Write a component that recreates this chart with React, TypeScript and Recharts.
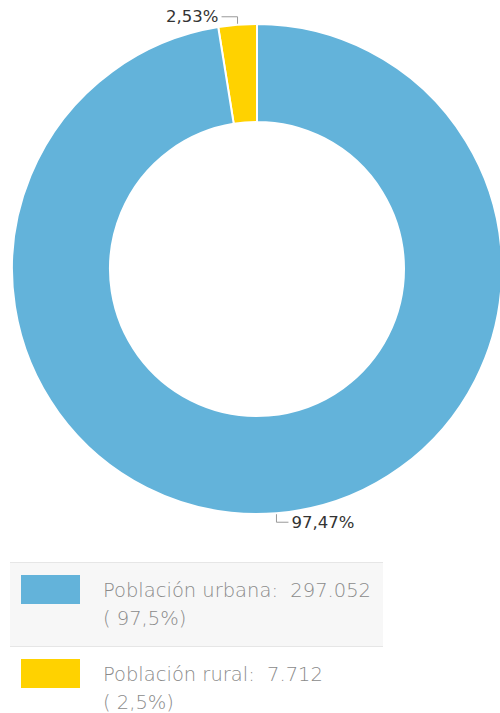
import React from "react";
import { PieChart, Pie, Cell } from "recharts";

const categories = ["Población rural", "Población urbana"];
const values = [7712, 297052];
const colors = ["#ffd200", "#63b3da"];

const legendOrder = [1, 0];
const legendPct = ["( 2,5%)", "( 97,5%)"];
const legendValues = ["7.712", "297.052"];

const data = categories.map((name, i) => ({ name, value: values[i] }));

const RAD = Math.PI / 180;

const renderLabel = (props: any) => {
  const { cx, cy, midAngle, outerRadius, percent, index } = props;
  const x0 = cx + outerRadius * Math.cos(-midAngle * RAD);
  const y0 = cy + outerRadius * Math.sin(-midAngle * RAD);
  const txt = (percent * 100).toFixed(2).replace(".", ",") + "%";
  if (index === 0) {
    const y1 = y0 - 8;
    const x1 = x0 - 16;
    return (
      <g>
        <path d={`M${x0},${y0 - 1}L${x0},${y1}L${x1},${y1}`} stroke="#999" fill="none" strokeWidth={1} />
        <text x={x1 - 3} y={y1 + 5} textAnchor="end" fontSize={16.5} fill="#333" fontFamily="DejaVu Sans, Verdana, sans-serif">
          {txt}
        </text>
      </g>
    );
  }
  const y1 = y0 + 9;
  const x1 = x0 + 12;
  return (
    <g>
      <path d={`M${x0},${y0 + 1}L${x0},${y1}L${x1},${y1}`} stroke="#999" fill="none" strokeWidth={1} />
      <text x={x1 + 3} y={y1 + 6} textAnchor="start" fontSize={16.5} fill="#333" fontFamily="DejaVu Sans, Verdana, sans-serif">
        {txt}
      </text>
    </g>
  );
};

export default function App() {
  return (
    <div style={{ position: "absolute", left: 0, top: 0, width: 500, height: 713, background: "#fff", overflow: "hidden" }}>
      <PieChart width={500} height={545} margin={{ top: 0, right: 0, bottom: 0, left: 0 }}>
        <Pie
          data={data}
          dataKey="value"
          nameKey="name"
          cx={257}
          cy={269}
          innerRadius={147}
          outerRadius={245}
          startAngle={90}
          endAngle={450}
          stroke="#fff"
          strokeWidth={2}
          isAnimationActive={false}
          label={renderLabel}
          labelLine={false}
        >
          {data.map((d, i) => (
            <Cell key={d.name} fill={colors[i]} />
          ))}
        </Pie>
      </PieChart>
      <div style={{ position: "absolute", left: 10, top: 562, width: 373, fontFamily: "'DejaVu Sans', sans-serif", fontWeight: 200, color: "#8a8a8a", fontSize: 19.5 }}>
        {legendOrder.map((i, k) => (
          <div
            key={i}
            style={{
              position: "relative",
              height: 83,
              background: k === 0 ? "#f7f7f7" : "#fff",
              borderTop: k === 0 ? "1px solid #e6e6e6" : "none",
              borderBottom: k === 0 ? "1px solid #e6e6e6" : "none",
            }}
          >
            <div style={{ position: "absolute", left: 11, top: 12, width: 59, height: 29, background: colors[i] }} />
            <div style={{ position: "absolute", left: 93, top: 14, lineHeight: "28px", whiteSpace: "nowrap" }}>
              {categories[i]}:&nbsp; {legendValues[i]}
              <br />
              {legendPct[i]}
            </div>
          </div>
        ))}
      </div>
    </div>
  );
}
